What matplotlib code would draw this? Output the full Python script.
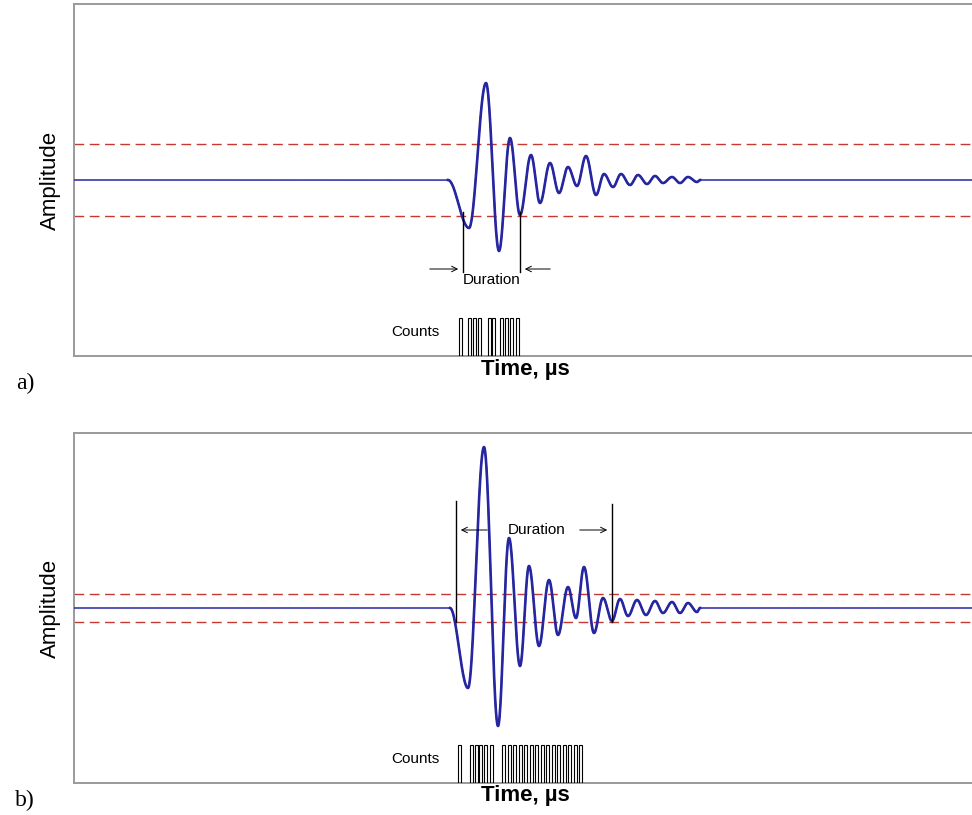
import numpy as np
import matplotlib.pyplot as plt
from matplotlib.patches import Rectangle

# burst extrema: time (arb. units) and amplitude, one pair per turning point
t_a = [0, 374, 395, 412, 425, 436, 446, 457, 466, 476, 485, 494, 503, 512,
       522, 530, 539, 547, 556, 564, 573, 581, 589, 598, 606, 614, 623, 626, 898]
amp_a = [0, 0, -48, 97, -71, 42, -35, 25, -23, 17, -13, 13, -6, 24,
         -15, 6, -7, 6, -5, 5, -4, 4, -3, 3, -3, 3, -2, 0, 0]
thr_a = 36
dur_a = [389, 446]
counts_a = [385, 394, 399, 404, 414, 418, 426, 431, 436, 442]

t_b = [0, 376, 394, 410, 424, 435, 446, 455, 465, 475, 484, 494, 502, 510,
       520, 529, 538, 546, 554, 563, 572, 581, 589, 598, 606, 614, 623, 626, 898]
amp_b = [0, 0, -80, 161, -118, 70, -58, 42, -38, 28, -27, 21, -10, 41,
         -25, 10, -13, 9, -8, 8, -7, 7, -5, 6, -5, 5, -4, 0, 0]
thr_b = 14
dur_b = [382, 538]
counts_b = [384, 396, 401, 405, 410, 416, 428, 433.5, 439, 444.5, 450, 455.5,
            461, 466.5, 472, 477.5, 483, 488.5, 494, 499.5, 505]

BLUE = '#2626a0'
RED = '#c23a30'
GREY = '#9a9a9a'
NARROW = ['Liberation Sans Narrow', 'Liberation Sans', 'DejaVu Sans']
SANS = ['Liberation Sans', 'DejaVu Sans']


def smooth(t, a, n=40):
    # half-cosine between successive turning points
    xs, ys = [], []
    for i in range(len(t) - 1):
        s = np.linspace(0, 1, n, endpoint=False)
        xs.append(t[i] + (t[i + 1] - t[i]) * s)
        ys.append(a[i] + (a[i + 1] - a[i]) * (1 - np.cos(np.pi * s)) / 2)
    xs.append([t[-1]])
    ys.append([a[-1]])
    return np.concatenate(xs), np.concatenate(ys)


def panel(ax, t, a, thr, ylim):
    ax.set_xlim(0, 898)
    ax.set_ylim(-ylim, ylim)
    x, y = smooth(t, a)
    ax.plot(x, y, color=BLUE, lw=1.1, zorder=3)
    burst = (x >= t[1]) & (x <= t[-2])
    ax.plot(x[burst], y[burst], color=BLUE, lw=1.9, zorder=3)
    for v in (thr, -thr):
        ax.axhline(v, color=RED, lw=1.0, dashes=(7, 4), zorder=2)
    ax.set_xticks([])
    ax.set_yticks([])
    ax.spines['right'].set_visible(False)
    for s in ('left', 'top', 'bottom'):
        ax.spines[s].set_color(GREY)
        ax.spines[s].set_linewidth(1.4)
    ax.text(-24, 0, 'Amplitude', rotation=90, ha='center', va='center',
            fontsize=16, family=NARROW, clip_on=False)
    ax.text(451, -ylim - 13, 'Time, µs', ha='center', va='center',
            fontsize=16, fontweight='bold', family=SANS, clip_on=False)
    ax.text(341, -ylim + 24, 'Counts', ha='center', va='center',
            fontsize=11, family=SANS)


def counts(ax, lefts, ylim, width=3.0, height=38):
    for c in lefts:
        ax.add_patch(Rectangle((c, -ylim), width, height, fill=False,
                               edgecolor='black', lw=0.8, zorder=4))


fig = plt.figure(figsize=(9.72, 8.15), dpi=100)
ax1 = fig.add_axes([74 / 972, 1 - 356 / 815, 898 / 972, 352 / 815])
ax2 = fig.add_axes([74 / 972, 1 - 783 / 815, 898 / 972, 350 / 815])

panel(ax1, t_a, amp_a, thr_a, 176)
panel(ax2, t_b, amp_b, thr_b, 175)
counts(ax1, counts_a, 176)
counts(ax2, counts_b, 175)

# duration markers, panel a
for d in dur_a:
    ax1.plot([d, d], [-thr_a + 4, -92], color='black', lw=1.0, zorder=4)
ax1.annotate('', xy=(dur_a[0] - 2, -89), xytext=(dur_a[0] - 36, -89),
             arrowprops=dict(arrowstyle='->', color='black', lw=0.7))
ax1.annotate('', xy=(dur_a[1] + 2, -89), xytext=(dur_a[1] + 33, -89),
             arrowprops=dict(arrowstyle='->', color='black', lw=0.7))
ax1.text(sum(dur_a) / 2, -100, 'Duration', ha='center', va='center',
         fontsize=11, family=SANS)

# duration markers, panel b
ax2.plot([dur_b[0], dur_b[0]], [107, -thr_b], color='black', lw=1.0, zorder=4)
ax2.plot([dur_b[1], dur_b[1]], [104, -thr_b], color='black', lw=1.0, zorder=4)
ax2.annotate('', xy=(dur_b[0] + 2, 78), xytext=(dur_b[0] + 34, 78),
             arrowprops=dict(arrowstyle='->', color='black', lw=0.7))
ax2.annotate('', xy=(dur_b[1] - 2, 78), xytext=(dur_b[1] - 35, 78),
             arrowprops=dict(arrowstyle='->', color='black', lw=0.7))
ax2.text(463, 78, 'Duration', ha='center', va='center', fontsize=11,
         family=SANS)

fig.text(25 / 972, 1 - 383 / 815, 'a)', ha='center', va='center',
         fontsize=17, family='Liberation Serif')
fig.text(25 / 972, 1 - 800 / 815, 'b)', ha='center', va='center',
         fontsize=17, family='Liberation Serif')

fig.savefig('out.png', dpi=100)
